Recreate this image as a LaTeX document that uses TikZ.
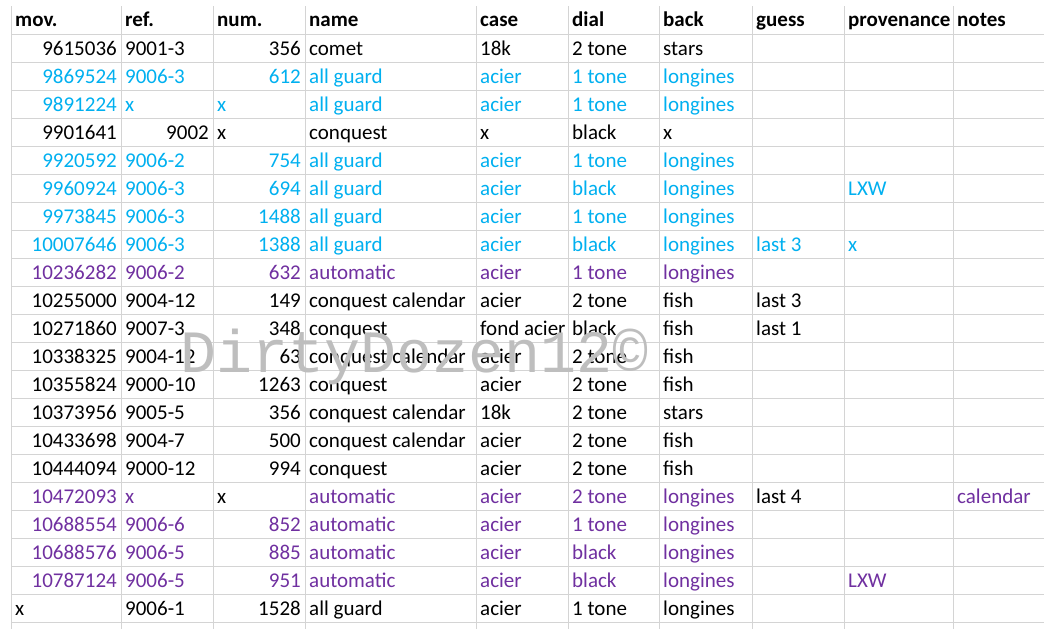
\documentclass[tikz,border=0pt]{standalone}
\usepackage{fontspec}
\setmainfont{Carlito}
\newfontfamily\wmfont{Liberation Mono}
\definecolor{dzblue}{HTML}{00B0F0}
\definecolor{dzpurple}{HTML}{7030A0}
\definecolor{dzgrid}{HTML}{D4D4D4}
\definecolor{dzmark}{HTML}{BEBEBE}
\tikzset{
  cell/.style={inner sep=0pt, anchor=base west, font=\fontsize{21}{25}\selectfont},
  rcell/.style={cell, anchor=base east},
  head/.style={cell, font=\fontsize{21}{25}\selectfont\bfseries},
}
% one spreadsheet row: row number, mov., ref., num., name, case, dial, back
\newcommand\dzrow[8]{%
  \node[rcell] (mov-#1) at (117,{27+28*#1}) {#2};
  \node[cell] (ref-#1) at (125,{27+28*#1}) {#3};
  \node[rcell] (num-#1) at (301,{27+28*#1}) {#4};
  \node[cell] (name-#1) at (309,{27+28*#1}) {#5};
  \node[cell] (case-#1) at (480,{27+28*#1}) {#6};
  \node[cell] (dial-#1) at (572,{27+28*#1}) {#7};
  \node[cell] (back-#1) at (663,{27+28*#1}) {#8};
}
\begin{document}
\begin{tikzpicture}[x=1pt,y=-1pt]
\useasboundingbox[fill=white] (0,0) rectangle (1044,629);

% grid
\foreach \k in {0,...,21}
  \draw[dzgrid] (11,{34+28*\k}) -- (1044,{34+28*\k});
\foreach \gx in {11,121,213,305,476,568,659,752,844,953}
  \draw[dzgrid] (\gx,6) -- (\gx,629);

% header
\foreach \hx/\htext [count=\i] in {15/mov.,125/ref.,217/num.,309/name,480/case,572/dial,663/back,756/guess,848/provenance,957/notes}
  \node[head] (head-\i) at (\hx,27) {\htext};

\dzrow{1}{9615036}{9001-3}{356}{comet}{18k}{2 tone}{stars}
\begin{scope}[text=dzblue]
\dzrow{2}{9869524}{9006-3}{612}{all guard}{acier}{1 tone}{longines}
\dzrow{3}{9891224}{x}{}{all guard}{acier}{1 tone}{longines}
\node[cell] (num-3x) at (217,{27+28*3}) {x};
\end{scope}
\dzrow{4}{9901641}{}{}{conquest}{x}{black}{x}
\node[rcell] (ref-4x) at (209,{27+28*4}) {9002};
\node[cell] (num-4x) at (217,{27+28*4}) {x};
\begin{scope}[text=dzblue]
\dzrow{5}{9920592}{9006-2}{754}{all guard}{acier}{1 tone}{longines}
\dzrow{6}{9960924}{9006-3}{694}{all guard}{acier}{black}{longines}
\node[cell] (prov-6) at (848,{27+28*6}) {LXW};
\dzrow{7}{9973845}{9006-3}{1488}{all guard}{acier}{1 tone}{longines}
\dzrow{8}{10007646}{9006-3}{1388}{all guard}{acier}{black}{longines}
\node[cell] (guess-8) at (756,{27+28*8}) {last 3};
\node[cell] (prov-8) at (848,{27+28*8}) {x};
\end{scope}
\begin{scope}[text=dzpurple]
\dzrow{9}{10236282}{9006-2}{632}{automatic}{acier}{1 tone}{longines}
\end{scope}
\dzrow{10}{10255000}{9004-12}{149}{conquest calendar}{acier}{2 tone}{fish}
\node[cell] (guess-10) at (756,{27+28*10}) {last 3};
\dzrow{11}{10271860}{9007-3}{348}{conquest}{fond acier}{black}{fish}
\node[cell] (guess-11) at (756,{27+28*11}) {last 1};
\dzrow{12}{10338325}{9004-12}{63}{conquest calendar}{acier}{2 tone}{fish}
\dzrow{13}{10355824}{9000-10}{1263}{conquest}{acier}{2 tone}{fish}
\dzrow{14}{10373956}{9005-5}{356}{conquest calendar}{18k}{2 tone}{stars}
\dzrow{15}{10433698}{9004-7}{500}{conquest calendar}{acier}{2 tone}{fish}
\dzrow{16}{10444094}{9000-12}{994}{conquest}{acier}{2 tone}{fish}
\begin{scope}[text=dzpurple]
\dzrow{17}{10472093}{x}{}{automatic}{acier}{2 tone}{longines}
\node[cell] (notes-17) at (957,{27+28*17}) {calendar};
\dzrow{18}{10688554}{9006-6}{852}{automatic}{acier}{1 tone}{longines}
\dzrow{19}{10688576}{9006-5}{885}{automatic}{acier}{black}{longines}
\dzrow{20}{10787124}{9006-5}{951}{automatic}{acier}{black}{longines}
\node[cell] (prov-20) at (848,{27+28*20}) {LXW};
\end{scope}
\node[cell] (num-17x) at (217,{27+28*17}) {x};
\node[cell] (guess-17) at (756,{27+28*17}) {last 4};
\dzrow{21}{}{9006-1}{1528}{all guard}{acier}{1 tone}{longines}
\node[cell] (mov-21x) at (15,{27+28*21}) {x};

% watermark
\node[inner sep=0pt, anchor=base west, text=dzmark, font=\fontsize{60}{60}\wmfont] (mark) at (180,372) {DirtyDozen12©};
\end{tikzpicture}
\end{document}
